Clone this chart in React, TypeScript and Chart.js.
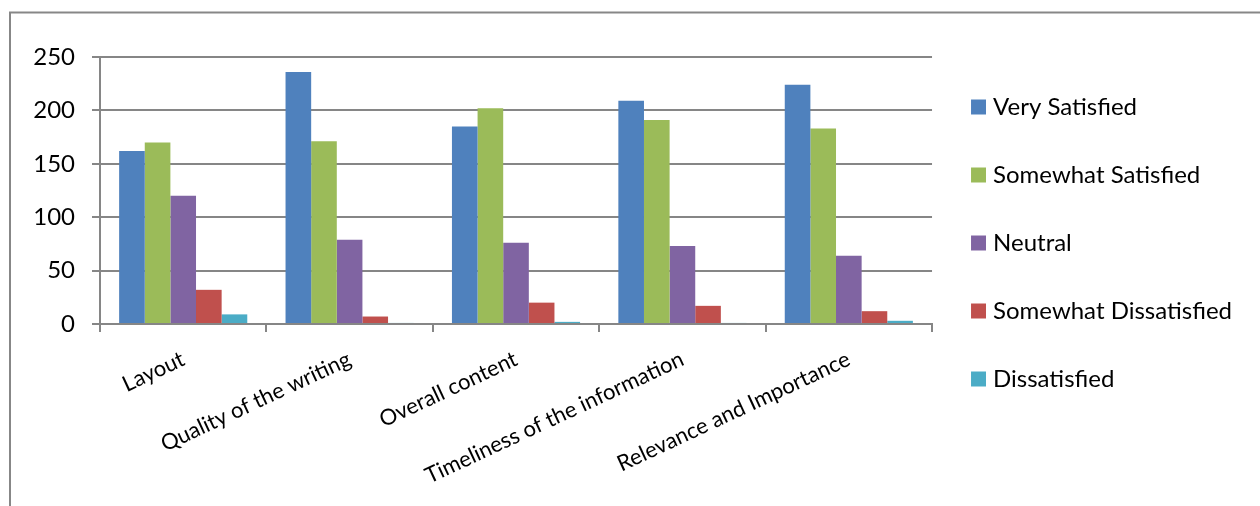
import React, { useEffect, useRef } from 'react';
import { Chart, registerables } from 'chart.js';

Chart.register(...registerables);

const categories = [
  'Layout',
  'Quality of the writing',
  'Overall content',
  'Timeliness of the information',
  'Relevance and Importance',
];
const seriesNames = [
  'Very Satisfied',
  'Somewhat Satisfied',
  'Neutral',
  'Somewhat Dissatisfied',
  'Dissatisfied',
];
const verySatisfied = [162, 236, 185, 209, 224];
const somewhatSatisfied = [170, 171, 202, 191, 183];
const neutral = [120, 79, 76, 73, 64];
const somewhatDissatisfied = [32, 7, 20, 17, 12];
const dissatisfied = [9, 1, 2, 1, 3];
const yTickMin = 0;
const yTickMax = 250;
const yTickStep = 50;

const seriesValues = [verySatisfied, somewhatSatisfied, neutral, somewhatDissatisfied, dissatisfied];
const seriesColors = ['#4F81BD', '#9BBB59', '#8064A2', '#C0504D', '#4BACC6'];

const GRID = '#868686';
const FONT = 'Lato, "Open Sans", sans-serif';

const framePlugin = {
  id: 'frame',
  beforeDraw(chart: any) {
    const ctx = chart.ctx;
    ctx.save();
    ctx.strokeStyle = '#878787';
    ctx.lineWidth = 2;
    ctx.strokeRect(10, 12.5, chart.width + 50, chart.height + 50);
    ctx.restore();
  },
};

export default function App() {
  const ref = useRef<HTMLCanvasElement | null>(null);

  useEffect(() => {
    if (!ref.current) return;
    const chart = new Chart(ref.current, {
      type: 'bar',
      data: {
        labels: categories,
        datasets: seriesNames.map((name, i) => ({
          label: name,
          data: seriesValues[i],
          backgroundColor: seriesColors[i],
          borderWidth: 0,
          categoryPercentage: 0.77,
          barPercentage: 1.0,
        })),
      },
      options: {
        animation: false,
        responsive: false,
        events: [],
        layout: { padding: { left: 0, right: 18, top: 51, bottom: 0 } },
        plugins: {
          title: {
            display: true,
            text: '',
            padding: 0,
            font: { size: 6, lineHeight: 1 },
          },
          legend: {
            position: 'right',
            align: 'start',
            labels: {
              usePointStyle: true,
              pointStyle: 'rect',
              boxWidth: 5,
              boxHeight: 15,
              padding: 44,
              color: '#000',
              font: { family: FONT, size: 24 },
            },
          },
          tooltip: { enabled: false },
        },
        scales: {
          x: {
            offset: true,
            grid: {
              display: true,
              drawOnChartArea: false,
              drawTicks: true,
              tickLength: 8,
              color: GRID,
              lineWidth: 2,
              offset: true,
            },
            border: { display: true, color: GRID, width: 2 },
            ticks: {
              autoSkip: false,
              minRotation: 25,
              maxRotation: 25,
              padding: 14,
              color: '#000',
              font: { family: FONT, size: 22 },
            },
            afterFit: (s: any) => {
              s.height = 182;
            },
          },
          y: {
            min: yTickMin,
            max: yTickMax,
            ticks: {
              stepSize: yTickStep,
              padding: 17,
              color: '#000',
              font: { family: FONT, size: 24 },
            },
            grid: { color: GRID, lineWidth: 2, tickLength: 8 },
            border: { display: true, color: GRID, width: 2 },
            afterFit: (s: any) => {
              s.width = 100;
            },
          },
        },
      },
      plugins: [framePlugin],
    } as any);
    return () => chart.destroy();
  }, []);

  return (
    <div style={{ position: 'absolute', left: 0, top: 0, width: 1260, height: 506, background: '#fff' }}>
      <canvas ref={ref} width={1260} height={506} />
    </div>
  );
}
